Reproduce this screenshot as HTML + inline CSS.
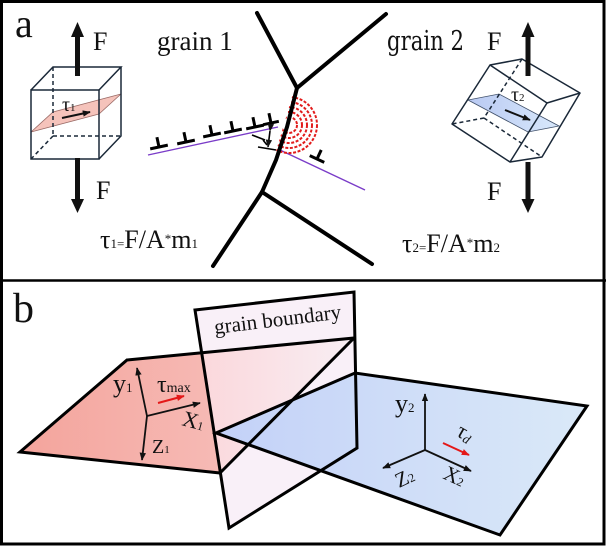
<!DOCTYPE html>
<html><head><meta charset="utf-8"><style>
html,body{margin:0;padding:0;background:#fff;}
svg{display:block;}
</style></head><body>
<svg width="606" height="546" viewBox="0 0 606 546" xmlns="http://www.w3.org/2000/svg" font-family="'Liberation Serif', 'Times New Roman', Times, serif" fill="#111">
<defs>
<linearGradient id="rg" gradientUnits="userSpaceOnUse" x1="20" y1="0" x2="220" y2="0"><stop offset="0" stop-color="#f4a49c"/><stop offset="1" stop-color="#f6bab5"/></linearGradient>
<linearGradient id="pg" gradientUnits="userSpaceOnUse" x1="202" y1="0" x2="354" y2="0"><stop offset="0" stop-color="#fbd8dc"/><stop offset="1" stop-color="#f8eef3"/></linearGradient>
<linearGradient id="bg" gradientUnits="userSpaceOnUse" x1="216" y1="0" x2="587" y2="0"><stop offset="0" stop-color="#c3d1f8"/><stop offset="1" stop-color="#dae9f8"/></linearGradient>
<linearGradient id="cb" gradientUnits="userSpaceOnUse" x1="468" y1="0" x2="559" y2="0"><stop offset="0" stop-color="#b9c9f2"/><stop offset="1" stop-color="#d8e8fb"/></linearGradient>
<marker id="ah" viewBox="0 0 10 10" refX="9" refY="5" markerWidth="8" markerHeight="8" markerUnits="userSpaceOnUse" orient="auto"><path d="M0,1 L10,5 L0,9 z" fill="#111"/></marker>
<marker id="ahr" viewBox="0 0 10 10" refX="9" refY="5" markerWidth="8" markerHeight="8" markerUnits="userSpaceOnUse" orient="auto"><path d="M0,1 L10,5 L0,9 z" fill="#e41818"/></marker>
<clipPath id="arcclip"><polygon points="300,70 345,70 345,175 269,175"/></clipPath>
</defs>

<!-- ============ PANEL A ============ -->
<text transform="translate(15,37) scale(2)" font-size="20">a</text>

<!-- left cube -->
<polygon points="31,132 99,114 121,94 53,112" fill="#f5c3bb" stroke="#9a6a66" stroke-width="0.8"/>
<g stroke="#1a2838" stroke-width="1.5" fill="none">
<rect x="31" y="90" width="68" height="69"/>
<polyline points="31,90 53,67 121,67 99,90"/>
<polyline points="121,67 121,136 99,159"/>
<g stroke-dasharray="4,3"><line x1="53" y1="67" x2="53" y2="136"/><line x1="53" y1="136" x2="121" y2="136"/><line x1="53" y1="136" x2="31" y2="159"/></g>
</g>
<text x="62" y="111" font-size="20">τ<tspan font-size="11">1</tspan></text>
<line x1="62" y1="118" x2="90" y2="112" stroke="#111" stroke-width="2" marker-end="url(#ah)"/>
<!-- left F arrows -->
<rect x="75" y="36" width="5" height="40" fill="#111"/>
<polygon points="71,37 77.5,22 84,37" fill="#111"/>
<rect x="75" y="158" width="5" height="42" fill="#111"/>
<polygon points="71,199 77.5,213 84,199" fill="#111"/>
<text transform="translate(93,50) scale(2)" font-size="13">F</text>
<text transform="translate(96,199) scale(2)" font-size="13">F</text>

<text transform="translate(157,50) scale(2)" font-size="13.5">grain 1</text>
<text x="387" y="50" font-size="27" font-family="'DejaVu Serif', serif" textLength="77" lengthAdjust="spacingAndGlyphs">grain 2</text>

<!-- slip planes -->
<line x1="148" y1="155" x2="278" y2="127" stroke="#7a3cc8" stroke-width="1.4"/>
<line x1="280" y1="150" x2="365" y2="190" stroke="#7a3cc8" stroke-width="1.4"/>

<!-- red arcs -->
<g clip-path="url(#arcclip)" fill="none" stroke="#e21c1c" stroke-width="2" stroke-dasharray="3,1.6">
<circle cx="289" cy="125" r="28"/>
<circle cx="289" cy="125" r="23"/>
<circle cx="289" cy="125" r="18"/>
<circle cx="289" cy="125" r="13"/>
<circle cx="289" cy="125" r="8"/>
</g>

<!-- grain boundaries -->
<g stroke="#000" stroke-width="4" fill="none" stroke-linecap="round" stroke-linejoin="round">
<line x1="257" y1="13" x2="297" y2="88"/>
<line x1="297" y1="88" x2="386" y2="14"/>
<path d="M297,88 L287,127 L276,160 L262,192"/>
<line x1="262" y1="192" x2="213" y2="266"/>
<line x1="262" y1="192" x2="372" y2="264"/>
</g>

<!-- dislocations -->
<g stroke="#000" stroke-width="3" fill="none">
<path transform="translate(159,147) rotate(-12)" d="M-9,0 H9 M0,0 V-10"/>
<path transform="translate(186,142) rotate(-12)" d="M-9,0 H9 M0,0 V-10"/>
<path transform="translate(212,135) rotate(-12)" d="M-9,0 H9 M0,0 V-10"/>
<path transform="translate(233,131) rotate(-12)" d="M-9,0 H9 M0,0 V-10"/>
<path transform="translate(255,127) rotate(-12)" d="M-9,0 H9 M0,0 V-10"/>
<path transform="translate(271,123) rotate(-12)" d="M-8,0 H8 M0,0 V-10"/>
<path transform="translate(317,159) rotate(25)" d="M-8,0 H8 M0,0 V-10"/>
</g>
<!-- small marker -->
<g stroke="#000" stroke-width="1.6" fill="none">
<line x1="252" y1="135" x2="265" y2="140"/>
<line x1="258" y1="147" x2="276" y2="150"/>
<line x1="263" y1="140" x2="267" y2="145"/>
</g>
<line x1="270" y1="131" x2="268" y2="147" stroke="#000" stroke-width="1.6" marker-end="url(#ah)" marker-start="url(#ah)"/>

<!-- right cube -->
<polygon points="468,100 528,132 559,126 499,94" fill="url(#cb)" stroke="#40506a" stroke-width="0.8"/>
<g stroke="#1a2838" stroke-width="1.5" fill="none" stroke-linejoin="round">
<polygon points="452,124 490,65 547,103 510,162"/>
<polyline points="490,65 522,59 580,93 547,103"/>
<polyline points="580,93 542,157 510,162"/>
<g stroke-dasharray="4,3"><line x1="522" y1="59" x2="484" y2="118"/><line x1="484" y1="118" x2="452" y2="124"/><line x1="484" y1="118" x2="542" y2="157"/></g>
</g>
<text x="511" y="101" font-size="20">τ<tspan font-size="11">2</tspan></text>
<line x1="505" y1="110" x2="530" y2="120" stroke="#111" stroke-width="2" marker-end="url(#ah)"/>
<!-- right F arrows -->
<rect x="525.5" y="36" width="5" height="40" fill="#111"/>
<polygon points="521.5,37 528,22 534.5,37" fill="#111"/>
<rect x="525.5" y="162" width="5" height="38" fill="#111"/>
<polygon points="521.5,199 528,213 534.5,199" fill="#111"/>
<text transform="translate(487,50) scale(2)" font-size="13">F</text>
<text transform="translate(487,200) scale(2)" font-size="13">F</text>

<text transform="translate(100,248) scale(2)" font-size="13">τ<tspan font-size="6.5">1=</tspan>F/A<tspan font-size="6.5" dy="-2.5">*</tspan><tspan dy="2.5">m</tspan><tspan font-size="6.5">1</tspan></text>
<text transform="translate(402,252) scale(2)" font-size="13">τ<tspan font-size="6.5">2=</tspan>F/A<tspan font-size="6.5" dy="-2.5">*</tspan><tspan dy="2.5">m</tspan><tspan font-size="6.5">2</tspan></text>

<!-- ============ PANEL B ============ -->
<text transform="translate(13,322) scale(2)" font-size="21">b</text>

<!-- GB plane fill -->
<polygon points="195,310 354,292 357,448 229,528" fill="#f9f0f8"/>
<!-- red plane -->
<polygon points="20,452 127,360 202,353 220,473" fill="url(#rg)"/>
<polygon points="202,353 354,338 220,473" fill="url(#pg)"/>
<!-- blue plane -->
<polygon points="216,433 355,373 587,406 500,535" fill="url(#bg)"/>

<g stroke="#000" stroke-width="3" fill="none" stroke-linejoin="miter">
<polygon points="195,310 354,292 357,448 229,528"/>
<polyline points="220,473 20,452 127,360 354,338"/>
<line x1="220" y1="473" x2="354" y2="338"/>
<polygon points="216,433 355,373 587,406 500,535"/>
</g>

<text transform="translate(215,334) rotate(-7)" font-size="21">grain boundary</text>

<!-- red axes -->
<g stroke="#111" stroke-width="1.8" fill="none">
<line x1="147" y1="416" x2="137" y2="368" marker-end="url(#ah)"/>
<line x1="147" y1="416" x2="142" y2="460" marker-end="url(#ah)"/>
<line x1="147" y1="416" x2="200" y2="403" marker-end="url(#ah)"/>
</g>
<line x1="158" y1="403" x2="184" y2="396" stroke="#e41818" stroke-width="2" marker-end="url(#ahr)"/>
<text transform="translate(113,392) scale(2)" font-size="13">y<tspan font-size="6.5">1</tspan></text>
<text x="157" y="392" font-size="24">τ<tspan font-size="14">max</tspan></text>
<text transform="translate(181,425) rotate(15)" font-size="22">X<tspan font-size="12">1</tspan></text>
<text x="152" y="453" font-size="20">Z<tspan font-size="11">1</tspan></text>

<!-- blue axes -->
<g stroke="#111" stroke-width="1.8" fill="none">
<line x1="425" y1="450" x2="425" y2="394" marker-end="url(#ah)"/>
<line x1="425" y1="450" x2="471" y2="471" marker-end="url(#ah)"/>
<line x1="425" y1="450" x2="383" y2="468" marker-end="url(#ah)"/>
</g>
<line x1="443" y1="443" x2="469" y2="455" stroke="#e41818" stroke-width="2" marker-end="url(#ahr)"/>
<text transform="translate(395,412) scale(2)" font-size="13">y<tspan font-size="6.5">2</tspan></text>
<text transform="translate(455,435) rotate(30)" font-size="22">τ<tspan font-size="13" font-style="italic" dy="2">d</tspan></text>
<text transform="translate(399,488) rotate(-25)" font-size="21">Z<tspan font-size="12">2</tspan></text>
<text transform="translate(442,478) rotate(25)" font-size="21">X<tspan font-size="12">2</tspan></text>

<!-- frame -->
<rect x="1.5" y="1.5" width="602.5" height="542.5" fill="none" stroke="#000" stroke-width="3"/>
<line x1="0" y1="280.5" x2="606" y2="280.5" stroke="#000" stroke-width="2.5"/>
</svg>
</body></html>
